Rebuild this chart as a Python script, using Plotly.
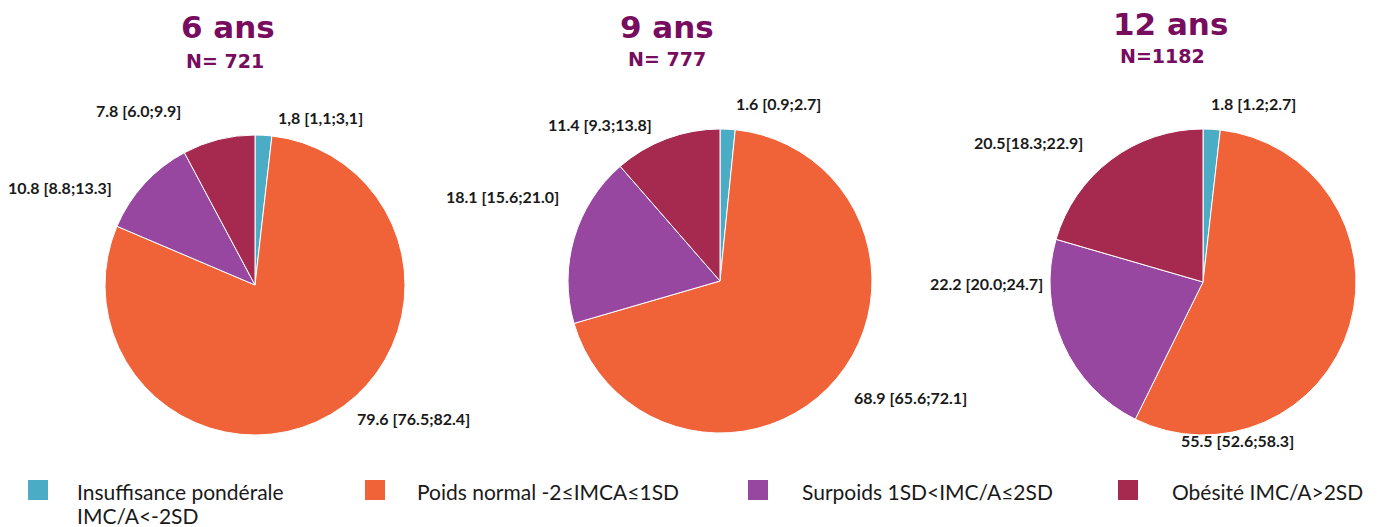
import plotly.graph_objects as go

W, H = 1389, 527

categories = [
    "Insuffisance pondérale<br>IMC/A<-2SD",
    "Poids normal -2≤IMCA≤1SD",
    "Surpoids 1SD<IMC/A≤2SD",
    "Obésité IMC/A>2SD",
]
colors = ["#4BACC6", "#F06237", "#9747A0", "#A62A4F"]

ages = ["6 ans", "9 ans", "12 ans"]
ns = ["N= 721", "N= 777", "N=1182"]

values_6 = [1.8, 79.6, 10.8, 7.8]
values_9 = [1.6, 68.9, 18.1, 11.4]
values_12 = [1.8, 55.5, 22.2, 20.5]

labels_6 = ["1,8 [1,1;3,1]", "79.6 [76.5;82.4]", "10.8 [8.8;13.3]", "7.8 [6.0;9.9]"]
labels_9 = ["1.6 [0.9;2.7]", "68.9 [65.6;72.1]", "18.1 [15.6;21.0]", "11.4 [9.3;13.8]"]
labels_12 = ["1.8 [1.2;2.7]", "55.5 [52.6;58.3]", "22.2 [20.0;24.7]", "20.5[18.3;22.9]"]

all_values = [values_6, values_9, values_12]
all_labels = [labels_6, labels_9, labels_12]

# ---- layout settings (pixels) ----
pie_boxes = [(105, 135, 405, 435), (568, 129, 872, 433), (1050, 129, 1356, 435)]
title_pos = [(228, 27), (667, 27), (1170, 24)]
n_pos = [(225, 61), (667, 59), (1162, 56)]
label_pos = [
    [(320, 117), (413, 418), (60, 188), (138, 110)],
    [(778, 103), (910, 397), (502, 197), (600, 124)],
    [(1253, 103), (1237, 440), (986, 283), (1028, 142)],
]
legend_sq_x = [28, 365, 748, 1118]
legend_txt_x = [75, 415, 800, 1170]
legend_sq_y = (480, 500)
legend_line_y = 491
legend_line_gap = 24

title_color = "#780C5E"


def px(x):
    return x / W


def py(y):
    return 1 - y / H


fig = go.Figure()
annotations = []
shapes = []

for i, (vals, labs) in enumerate(zip(all_values, all_labels)):
    x0, y0, x1, y1 = pie_boxes[i]
    fig.add_trace(go.Pie(
        labels=categories,
        values=vals,
        sort=False,
        direction="clockwise",
        rotation=0,
        marker=dict(colors=colors, line=dict(color="white", width=1)),
        textinfo="none",
        hoverinfo="label+value",
        showlegend=False,
        domain=dict(x=[px(x0), px(x1)], y=[py(y1), py(y0)]),
    ))
    for lab, (lx, ly) in zip(labs, label_pos[i]):
        annotations.append(dict(
            x=px(lx), y=py(ly), xref="paper", yref="paper",
            text=lab, showarrow=False, xanchor="center", yanchor="middle",
            font=dict(family="Lato", size=16, color="#1a1a1a", weight="bold"),
        ))
    tx, ty = title_pos[i]
    annotations.append(dict(
        x=px(tx), y=py(ty), xref="paper", yref="paper", text=ages[i],
        showarrow=False, xanchor="center", yanchor="middle",
        font=dict(family="DejaVu Sans", size=31, color=title_color, weight="bold"),
    ))
    nx, ny = n_pos[i]
    annotations.append(dict(
        x=px(nx), y=py(ny), xref="paper", yref="paper", text=ns[i],
        showarrow=False, xanchor="center", yanchor="middle",
        font=dict(family="DejaVu Sans", size=19, color=title_color, weight="bold"),
    ))

# legend
for cat, col, sx, tx in zip(categories, colors, legend_sq_x, legend_txt_x):
    shapes.append(dict(
        type="rect", xref="paper", yref="paper",
        x0=px(sx), x1=px(sx + 20), y0=py(legend_sq_y[1]), y1=py(legend_sq_y[0]),
        fillcolor=col, line=dict(width=0),
    ))
    for k, line in enumerate(cat.split("<br>")):
        annotations.append(dict(
            x=px(tx), y=py(legend_line_y + k * legend_line_gap),
            xref="paper", yref="paper",
            text=line, showarrow=False, xanchor="left", yanchor="middle",
            font=dict(family="Lato", size=21, color="#1a1a1a"),
        ))

fig.update_layout(
    width=W, height=H,
    margin=dict(l=0, r=0, t=0, b=0),
    paper_bgcolor="white", plot_bgcolor="white",
    annotations=annotations, shapes=shapes,
    showlegend=False,
)

fig.write_html(
    "out.html",
    config={"displayModeBar": False},
    post_script="document.body.style.margin='0';document.body.style.overflow='hidden';",
)
